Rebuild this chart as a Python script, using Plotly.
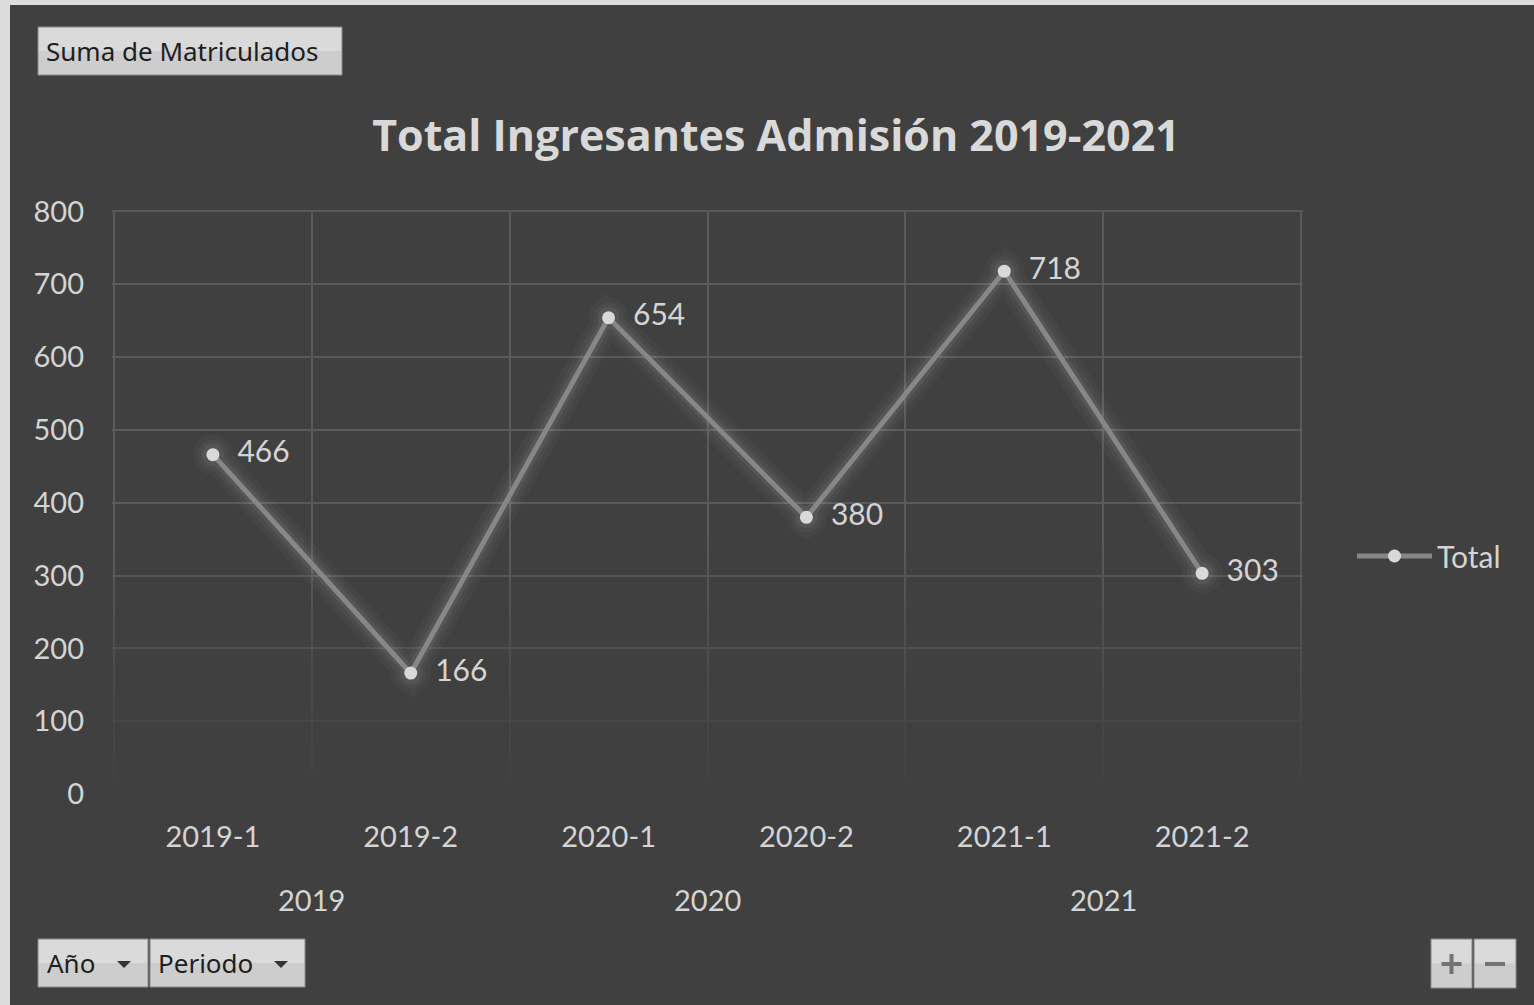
import plotly.graph_objects as go

# Datos: ingresantes por periodo de admisión
anios = ["2019", "2019", "2020", "2020", "2021", "2021"]
periodos = ["2019-1", "2019-2", "2020-1", "2020-2", "2021-1", "2021-2"]
valores = [466, 166, 654, 380, 718, 303]
y_ticks = [0, 100, 200, 300, 400, 500, 600, 700, 800]

W, H = 1534, 1005
BG = "#404040"
GRID = "#5a5a5a"
TXT = "#d4d4d4"
FONT = "Lato, 'Open Sans', sans-serif"
UI_FONT = "'Noto Sans', 'DejaVu Sans', sans-serif"


def px(x):
    return x / W


def py(y):
    return 1 - y / H


xs = list(range(len(periodos)))

fig = go.Figure()

# Degradado que desvanece la cuadrícula hacia la base del gráfico
fig.add_trace(go.Scatter(
    x=[-0.6, len(periodos) - 0.4, len(periodos) - 0.4, -0.6],
    y=[-10, -10, 350, 350],
    fill="toself", mode="none",
    fillgradient=dict(type="vertical", start=0, stop=350,
                      colorscale=[[0, "rgba(64,64,64,1)"], [1, "rgba(64,64,64,0)"]]),
    hoverinfo="skip", showlegend=False,
))

# Resplandor alrededor de la línea
for w, op in [(30, 0.022), (20, 0.032), (12, 0.055)]:
    fig.add_trace(go.Scatter(
        x=xs, y=valores, mode="lines+markers",
        line=dict(color="white", width=w),
        marker=dict(color="white", size=w + 10),
        opacity=op, hoverinfo="skip", showlegend=False,
    ))

# Serie principal
fig.add_trace(go.Scatter(
    x=xs, y=valores, name="Total",
    mode="lines+markers+text",
    line=dict(color="#878787", width=5),
    marker=dict(color="#d9d9d9", size=13),
    text=["  " + str(v) for v in valores],
    textposition="middle right",
    textfont=dict(family=FONT, size=30, color=TXT),
))

# Etiquetas de año (centradas en cada par de periodos)
annotations = []
for a in dict.fromkeys(anios):
    idx = [i for i, v in enumerate(anios) if v == a]
    annotations.append(dict(
        x=sum(idx) / len(idx), xref="x", y=py(899), yref="paper",
        text=a, showarrow=False, xanchor="center", yanchor="middle",
        font=dict(family=FONT, size=29, color=TXT),
    ))

# Botones de la tabla dinámica
shapes = [
    dict(type="rect", xref="paper", yref="paper", x0=px(10), x1=1, y0=0, y1=py(5),
         fillcolor=BG, line=dict(width=0), layer="below"),
]


def boton(x0, x1, y0, y1):
    # Relleno con un leve degradado: franja superior más clara
    shapes.append(dict(type="rect", xref="paper", yref="paper",
                       x0=px(x0), x1=px(x1), y0=py(y1), y1=py(y0),
                       fillcolor="#cdcdcd", line=dict(color="#8c8c8c", width=1)))
    shapes.append(dict(type="rect", xref="paper", yref="paper",
                       x0=px(x0 + 1), x1=px(x1 - 1), y0=py((y0 + y1) / 2), y1=py(y0 + 1),
                       fillcolor="#dadada", line=dict(width=0)))


buttons = [
    (38, 342, 27, 75, "Suma de Matriculados", 44, False),
    (38, 148, 939, 987, "Año", 45, True),
    (150, 305, 939, 987, "Periodo", 156, True),
]
for x0, x1, y0, y1, label, tx, drop in buttons:
    boton(x0, x1, y0, y1)
    annotations.append(dict(x=px(tx), y=py((y0 + y1) / 2), xref="paper", yref="paper",
                            text=label, showarrow=False, xanchor="left", yanchor="middle",
                            font=dict(family=UI_FONT, size=26, color="#1e1e1e")))
    if drop:
        cx, cy = x1 - 24, (y0 + y1) / 2 + 1
        shapes.append(dict(type="path", xref="paper", yref="paper",
                           path=f"M {px(cx-7)} {py(cy-3)} L {px(cx+7)} {py(cy-3)} L {px(cx)} {py(cy+4)} Z",
                           fillcolor="#333333", line=dict(width=0)))

# Botones de expandir / contraer
for x0, x1, plus in [(1431, 1472, True), (1474, 1516, False)]:
    boton(x0, x1, 939, 988)
    cx, cy = (x0 + x1) / 2, 964
    shapes.append(dict(type="line", xref="paper", yref="paper",
                       x0=px(cx - 10), x1=px(cx + 10), y0=py(cy), y1=py(cy),
                       line=dict(color="#737373", width=4)))
    if plus:
        shapes.append(dict(type="line", xref="paper", yref="paper",
                           x0=px(cx), x1=px(cx), y0=py(cy - 10), y1=py(cy + 10),
                           line=dict(color="#737373", width=4)))

fig.update_layout(
    width=W, height=H,
    margin=dict(l=0, r=0, t=0, b=0, autoexpand=False),
    paper_bgcolor="#dcdcdc",
    plot_bgcolor="rgba(0,0,0,0)",
    title=dict(text="<b>Total Ingresantes Admisión 2019-2021</b>",
               x=px(776), y=py(136), xref="paper", yref="paper",
               xanchor="center", yanchor="middle",
               font=dict(family="'Open Sans', Lato, sans-serif", size=43, color="#d9d9d9")),
    xaxis=dict(
        domain=[px(112), px(1303)],
        range=[-0.51, len(periodos) - 0.49],
        tickmode="array", tickvals=xs, ticktext=periodos,
        showgrid=False, zeroline=False, showline=False, ticks="",
        layer="below traces", automargin=False,
        ticklabelstandoff=23,
        tickfont=dict(family=FONT, size=29, color=TXT),
        minor=dict(tick0=-0.5, dtick=1, showgrid=True,
                   gridcolor=GRID, gridwidth=2, ticks=""),
        fixedrange=True,
    ),
    yaxis=dict(
        domain=[py(794), py(210)],
        range=[0, 802],
        tickmode="array", tickvals=y_ticks,
        showgrid=True, gridcolor=GRID, gridwidth=2,
        zeroline=False, showline=False, ticks="",
        layer="below traces", automargin=False,
        ticklabelstandoff=27,
        tickfont=dict(family=FONT, size=29, color=TXT),
        fixedrange=True,
    ),
    legend=dict(x=px(1352), y=py(556), xanchor="left", yanchor="middle",
                bgcolor="rgba(0,0,0,0)", itemwidth=75,
                font=dict(family=FONT, size=30, color=TXT)),
    shapes=shapes,
    annotations=annotations,
)

fig.write_html("out.html")
